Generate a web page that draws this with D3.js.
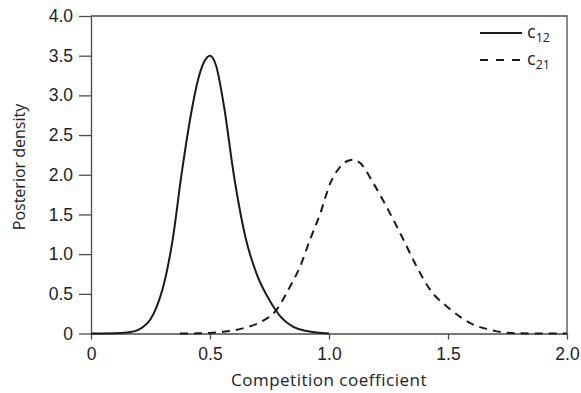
<!DOCTYPE html>
<html>
<head>
<meta charset="utf-8">
<script src="https://cdn.jsdelivr.net/npm/d3@7/dist/d3.min.js"></script>
<style>
  html, body { margin: 0; padding: 0; background: #fff; }
  svg { display: block; font-family: "Open Sans", "Noto Sans", sans-serif; }
</style>
</head>
<body>
<svg id="chart" width="581" height="393"></svg>
<script>
// Data
const c12X = [0, 0.05, 0.1, 0.15, 0.2, 0.22, 0.25, 0.275, 0.3, 0.343, 0.381, 0.4, 0.426, 0.45, 0.475, 0.5, 0.525, 0.559, 0.6, 0.65, 0.7, 0.75, 0.775, 0.8, 0.85, 0.9, 0.95, 1.0];
const c12Y = [0, 0, 0.002, 0.012, 0.05, 0.086, 0.18, 0.33, 0.55, 1.18, 2.02, 2.4, 2.86, 3.2, 3.42, 3.5, 3.38, 2.86, 2.0, 1.2, 0.72, 0.42, 0.3, 0.2, 0.085, 0.035, 0.012, 0];
const c21X = [0.374, 0.45, 0.5, 0.55, 0.6, 0.65, 0.71, 0.78, 0.836, 0.878, 0.92, 0.963, 1.005, 1.047, 1.075, 1.103, 1.13, 1.187, 1.257, 1.313, 1.369, 1.425, 1.495, 1.551, 1.6, 1.663, 1.7, 1.747, 1.8, 1.9, 2.0];
const c21Y = [0, 0.002, 0.006, 0.02, 0.04, 0.075, 0.14, 0.3, 0.59, 0.84, 1.18, 1.51, 1.89, 2.1, 2.17, 2.19, 2.15, 1.89, 1.51, 1.18, 0.84, 0.55, 0.34, 0.21, 0.12, 0.057, 0.03, 0.01, 0.003, 0, 0];
const xTicks = [0, 0.5, 1.0, 1.5, 2.0];
const yTicks = [0, 0.5, 1.0, 1.5, 2.0, 2.5, 3.0, 3.5, 4.0];
const seriesNames = ["12", "21"];

const W = 581, H = 393;
const m = { left: 91, right: 14, top: 16, bottom: 59.5 };
const svg = d3.select("#chart");

const x = d3.scaleLinear().domain([0, 2]).range([m.left, W - m.right]);
const y = d3.scaleLinear().domain([0, 4]).range([H - m.bottom, m.top]);

const axisColor = "#4a4a4a";
const fmt = d => d === 0 ? "0" : d.toFixed(1);

// Frame (top and right)
svg.append("path")
  .attr("d", `M${x(0)},${y(4)}H${x(2)}V${y(0)}`)
  .attr("fill", "none").attr("stroke", axisColor).attr("stroke-width", 1.3);

// X axis
const gx = svg.append("g").attr("transform", `translate(0,${y(0)})`)
  .call(d3.axisBottom(x).tickValues(xTicks).tickFormat(fmt).tickSizeInner(6).tickSizeOuter(0).tickPadding(8));
// Y axis
const gy = svg.append("g").attr("transform", `translate(${x(0)},0)`)
  .call(d3.axisLeft(y).tickValues(yTicks).tickFormat(fmt).tickSizeInner(12).tickSizeOuter(0).tickPadding(6));

[gx, gy].forEach(g => {
  g.select(".domain").attr("stroke", axisColor).attr("stroke-width", 1.3);
  g.selectAll(".tick line").attr("stroke", axisColor).attr("stroke-width", 1.3);
  g.selectAll(".tick text").attr("fill", "#222").style("font-size", "17.5px");
});

// Axis titles
svg.append("text").attr("x", (x(0) + x(2)) / 2).attr("y", 386)
  .attr("text-anchor", "middle").attr("fill", "#222").style("font-size", "17px")
  .style("letter-spacing", "0.5px")
  .text("Competition coefficient");
svg.append("text").attr("transform", `translate(25,167) rotate(-90)`)
  .attr("text-anchor", "middle").attr("fill", "#222").style("font-size", "16px")
  .text("Posterior density");

// Curves
const line = d3.line().x(d => x(d[0])).y(d => y(d[1])).curve(d3.curveMonotoneX);
svg.append("path").datum(d3.zip(c12X, c12Y)).attr("d", line)
  .attr("fill", "none").attr("stroke", "#1a1a1a").attr("stroke-width", 2);
svg.append("path").datum(d3.zip(c21X, c21Y)).attr("d", line)
  .attr("fill", "none").attr("stroke", "#1a1a1a").attr("stroke-width", 2)
  .attr("stroke-dasharray", "8,6");

// Legend
const legend = svg.append("g");
seriesNames.forEach((s, i) => {
  const ly = 33 + i * 27;
  legend.append("line").attr("x1", 480).attr("x2", 522).attr("y1", ly).attr("y2", ly)
    .attr("stroke", "#1a1a1a").attr("stroke-width", 2)
    .attr("stroke-dasharray", i === 1 ? "8,8" : null);
  const t = legend.append("text").attr("x", 527).attr("y", ly + 4.5)
    .attr("fill", "#222").style("font-size", "18px");
  t.append("tspan").text("c");
  t.append("tspan").attr("dy", 4).attr("fill", "#222").style("font-size", "12.5px").text(s);
});
</script>
</body>
</html>
